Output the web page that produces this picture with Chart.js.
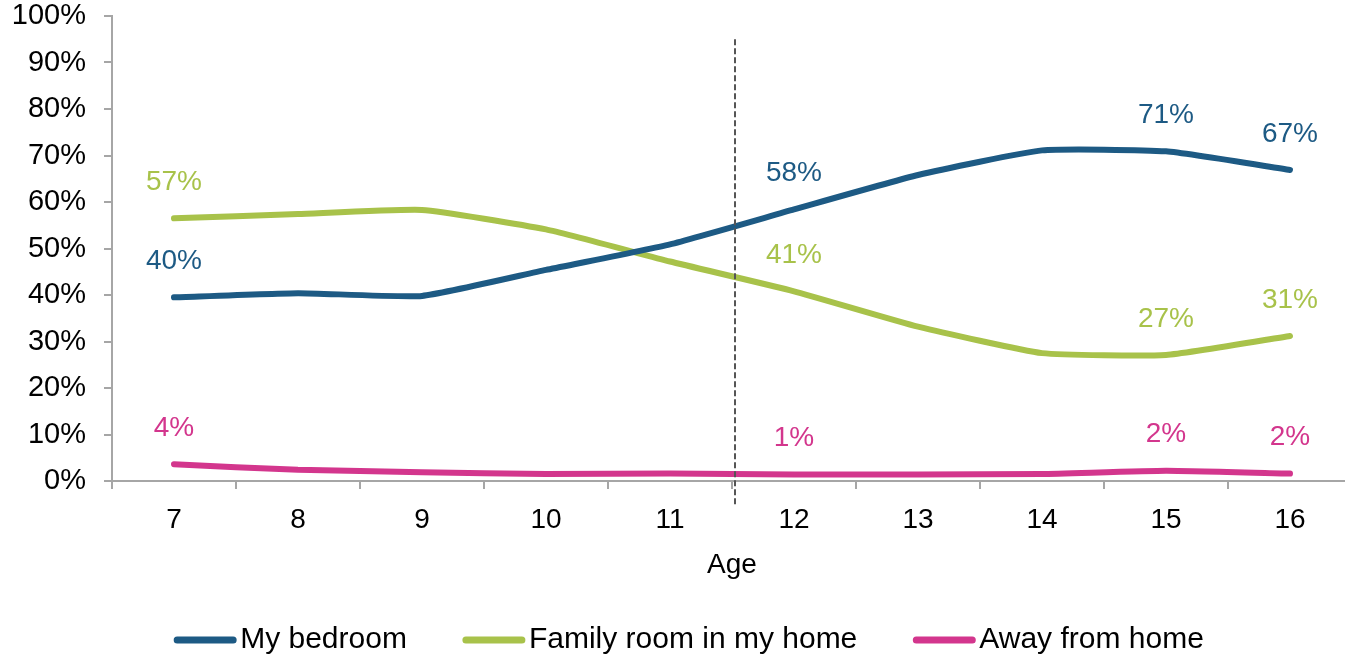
<!DOCTYPE html>
<html>
<head>
<meta charset="utf-8">
<script src="https://cdn.jsdelivr.net/npm/chart.js@4/dist/chart.umd.min.js"></script>
<style>
html,body{margin:0;padding:0;overflow:hidden;background:#fff;width:1345px;height:658px;}
#wrap{width:1360px;height:658px;}
</style>
</head>
<body>
<div id="wrap"><canvas id="c" width="1360" height="658"></canvas></div>
<script>
const ages = ['7','8','9','10','11','12','13','14','15','16'];
const bedroom = [39.5, 40.4, 39.8, 45.4, 50.9, 58.4, 65.8, 71.1, 70.9, 66.9];
const familyRoom = [56.5, 57.4, 58.3, 54.1, 47.2, 40.8, 33.2, 27.5, 27.1, 31.2];
const awayFromHome = [3.6, 2.4, 1.9, 1.5, 1.6, 1.4, 1.4, 1.5, 2.2, 1.6];
const labelledIndices = [0, 5, 8, 9];
const yTicks = [0,10,20,30,40,50,60,70,80,90,100];

const FONT = "'Liberation Sans', Arial, sans-serif";
const C_BED = '#1d5a84';
const C_FAM = '#a8c24a';
const C_AWAY = '#d3368d';

const labelPlugin = {
  id: 'pointLabels',
  afterDatasetsDraw(chart) {
    const ctx = chart.ctx;
    ctx.save();
    ctx.font = '28px ' + FONT;
    ctx.textAlign = 'center';
    ctx.textBaseline = 'middle';
    chart.data.datasets.forEach((ds, di) => {
      const meta = chart.getDatasetMeta(di);
      ctx.fillStyle = ds.borderColor;
      labelledIndices.forEach(i => {
        const p = meta.data[i];
        ctx.fillText(Math.round(ds.data[i]) + '%', p.x, p.y - 36);
      });
    });
    ctx.restore();
  }
};

const dividerPlugin = {
  id: 'divider',
  afterDraw(chart) {
    const x = chart.scales.x;
    const y = chart.scales.y;
    const px = (x.getPixelForValue(4) + x.getPixelForValue(5)) / 2 + 3;
    const ctx = chart.ctx;
    ctx.save();
    ctx.strokeStyle = '#555';
    ctx.lineWidth = 2;
    ctx.setLineDash([6, 3]);
    ctx.beginPath();
    ctx.moveTo(px, y.getPixelForValue(95));
    ctx.lineTo(px, y.getPixelForValue(0) + 26);
    ctx.stroke();
    ctx.restore();
  }
};

// Legend drawn in the style of the original (line marker tight against text)
const lineLegendPlugin = {
  id: 'lineLegend',
  afterDraw(chart) {
    const ctx = chart.ctx;
    const boxW = 62, gap = 4, spacing = 56, cy = 640;
    ctx.save();
    ctx.font = '30px ' + FONT;
    ctx.textBaseline = 'middle';
    const items = chart.data.datasets.map(ds => ({text: ds.label, color: ds.borderColor, w: ctx.measureText(ds.label).width}));
    const total = items.reduce((s, it) => s + boxW + gap + it.w, 0) + spacing * (items.length - 1);
    let x = 689 - total / 2;
    items.forEach(it => {
      ctx.strokeStyle = it.color;
      ctx.lineWidth = 7;
      ctx.lineCap = 'round';
      ctx.beginPath();
      ctx.moveTo(x + 3, cy);
      ctx.lineTo(x + boxW - 3, cy);
      ctx.stroke();
      ctx.fillStyle = '#000';
      ctx.fillText(it.text, x + boxW + gap, cy);
      x += boxW + gap + it.w + spacing;
    });
    ctx.restore();
  }
};

new Chart(document.getElementById('c'), {
  type: 'line',
  data: {
    labels: ages,
    datasets: [
      {label: 'My bedroom', data: bedroom, borderColor: C_BED, backgroundColor: C_BED},
      {label: 'Family room in my home', data: familyRoom, borderColor: C_FAM, backgroundColor: C_FAM},
      {label: 'Away from home', data: awayFromHome, borderColor: C_AWAY, backgroundColor: C_AWAY}
    ].map(d => Object.assign(d, {borderWidth: 6, pointRadius: 0, tension: 0.15, fill: false, borderCapStyle: 'round', borderJoinStyle: 'round'}))
  },
  options: {
    responsive: false,
    animation: false,
    devicePixelRatio: 1,
    layout: {padding: {top: 16, right: 8, bottom: 0, left: 0}},
    plugins: {
      legend: {display: false},
      tooltip: {enabled: false}
    },
    scales: {
      x: {
        offset: true,
        afterFit: s => { s.height = 177; },
        grid: {offset: true, drawOnChartArea: false, drawTicks: true, tickLength: 8, color: '#a6a6a6', lineWidth: 2},
        border: {color: '#a6a6a6', width: 2},
        ticks: {font: {family: FONT, size: 28}, color: '#000', padding: 14, maxRotation: 0},
        title: {display: true, text: 'Age', font: {family: FONT, size: 28}, color: '#000', padding: {top: 0, bottom: 76}}
      },
      y: {
        min: 0, max: 100,
        afterBuildTicks: s => { s.ticks = yTicks.map(v => ({value: v})); },
        afterFit: s => { s.width = 112; s.paddingTop = 0; s.paddingBottom = 0; },
        grid: {drawOnChartArea: false, drawTicks: true, tickLength: 8, color: '#a6a6a6', lineWidth: 2},
        border: {color: '#a6a6a6', width: 2},
        ticks: {font: {family: FONT, size: 29}, color: '#000', padding: 18, callback: v => v + '%'}
      }
    }
  },
  plugins: [labelPlugin, dividerPlugin, lineLegendPlugin]
});
</script>
</body>
</html>
